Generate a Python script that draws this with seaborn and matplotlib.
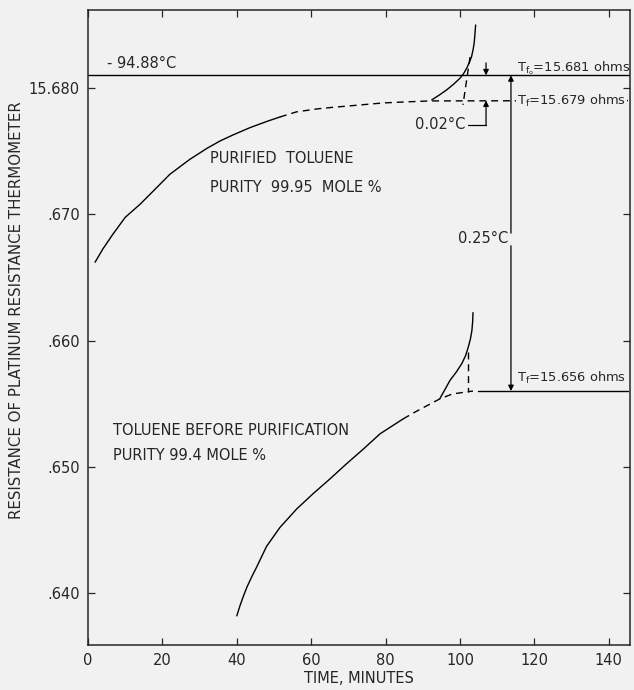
import numpy as np
import pandas as pd
import matplotlib
matplotlib.use("Agg")
import matplotlib.pyplot as plt
import seaborn as sns

# Curvas (tempo em minutos, resistencia em ohms)
pur_t = [1.9, 4.0, 6.7, 10.0, 14.0, 17.5, 22.0, 27.4, 32.0, 35.5, 39.0, 43.5, 48.1, 51.6]
pur_r = [15.6662, 15.66725, 15.66842, 15.66975, 15.67079, 15.67182, 15.67316, 15.67435,
         15.67522, 15.6758, 15.67628, 15.67685, 15.67735, 15.6777]

pur_dash_t = [51.6, 56.0, 61.6, 66.0, 70.4, 75.0, 79.3, 86.0, 91.9, 146.0]
pur_dash_r = [15.6777, 15.6781, 15.67834, 15.67847, 15.67858, 15.6787, 15.67881, 15.6789, 15.67897, 15.679]

pur_rise_t = [92.4, 94.5, 96.4, 98.3, 100.0, 101.0, 101.8, 102.5, 103.1, 103.5, 103.8, 104.0, 104.2]
pur_rise_r = [15.67905, 15.67945, 15.67984, 15.6803, 15.68077, 15.68115, 15.68156, 15.682,
              15.68247, 15.683, 15.68353, 15.6842, 15.68498]

pur_extra_t = [102.7, 100.8]
pur_extra_r = [15.68245, 15.67866]

raw_t = [40.0, 40.8, 41.7, 42.7, 44.0, 45.3, 48.0, 51.6, 56.1, 60.5, 65.0, 69.5, 74.0, 78.5, 84.7]
raw_r = [15.6382, 15.63895, 15.6397, 15.64046, 15.64128, 15.64204, 15.6437, 15.6452, 15.64666,
         15.64787, 15.64903, 15.65024, 15.6514, 15.65261, 15.65379]

raw_dash_t = [84.7, 88.0, 91.0, 94.6, 98.0, 101.8, 103.5]
raw_dash_r = [15.65379, 15.65435, 15.65482, 15.65538, 15.65577, 15.65593, 15.656]

raw_rise_t = [94.6, 96.0, 97.3, 99.0, 100.5, 101.5, 102.2, 102.8, 103.2, 103.4, 103.5]
raw_rise_r = [15.65541, 15.65614, 15.65684, 15.6575, 15.65818, 15.6588, 15.65945, 15.66012,
              15.66079, 15.6615, 15.66221]

raw_extra_t = [102.2, 102.2]
raw_extra_r = [15.65908, 15.6559]

tf0_line_t = [0, 146]
tf0_line_r = [15.681, 15.681]
tf_raw_t = [104.8, 145.2]
tf_raw_r = [15.656, 15.656]

x_ticks = [0, 20, 40, 60, 80, 100, 120, 140]
y_ticks = [15.640, 15.650, 15.660, 15.670, 15.680]
y_tick_labels = ['.640', '.650', '.660', '.670', '15.680']

bg = '#f1f1f1'
sns.set_style("ticks")
plt.rcParams['font.family'] = ['DejaVu Sans']
plt.rcParams['xtick.direction'] = 'in'
plt.rcParams['ytick.direction'] = 'in'

fig = plt.figure(figsize=(6.34, 6.90), dpi=100, facecolor=bg)
ax = fig.add_axes([88 / 634, 45 / 690, 542 / 634, 635 / 690], facecolor=bg)

dash = (0, (5, 3.5))
def curve(t, r, ls='-'):
    sns.lineplot(x=t, y=r, ax=ax, color='black', lw=1.0, sort=False,
                 estimator=None, linestyle=ls)

curve(pur_t, pur_r)
curve(pur_dash_t, pur_dash_r, dash)
curve(pur_rise_t, pur_rise_r)
curve(pur_extra_t, pur_extra_r, dash)
curve(raw_t, raw_r)
curve(raw_dash_t, raw_dash_r, dash)
curve(raw_rise_t, raw_rise_r)
curve(raw_extra_t, raw_extra_r, dash)
curve(tf0_line_t, tf0_line_r)
curve(tf_raw_t, tf_raw_r)

ax.set_xlim(0, 145.7)
ax.set_ylim(15.63589, 15.68617)
ax.set_xticks(x_ticks)
ax.set_yticks(y_ticks)
ax.set_yticklabels(y_tick_labels)
ax.tick_params(top=True, right=True, length=5, width=0.9, labelsize=10.5, pad=6)
for s in ax.spines.values():
    s.set_linewidth(1.1)
ax.set_xlabel('TIME, MINUTES', fontsize=10.5, labelpad=2)
ax.set_ylabel('RESISTANCE OF PLATINUM RESISTANCE THERMOMETER', fontsize=10.8)
ax.yaxis.set_label_coords(-0.118, 0.528)

fs = 10.5
fs_t = 9.4
ax.text(5.1, 15.6819, '- 94.88°C', fontsize=fs, va='center')
ax.text(115.3, 15.6816, r'T$_{\mathrm{f_o}}$=15.681 ohms', fontsize=fs_t, va='center')
ax.text(115.3, 15.6790, r'T$_{\mathrm{f}}$=15.679 ohms', fontsize=fs_t, va='center',
        bbox=dict(facecolor=bg, edgecolor='none', pad=0.5))
ax.text(115.3, 15.6570, r'T$_{\mathrm{f}}$=15.656 ohms', fontsize=fs_t, va='center')
ax.text(113.0, 15.6681, '0.25°C', fontsize=fs, va='center', ha='right')
ax.text(101.5, 15.67708, '0.02°C', fontsize=fs, va='center', ha='right')
ax.text(32.8, 15.67443, 'PURIFIED  TOLUENE', fontsize=fs, va='center')
ax.text(32.8, 15.67213, 'PURITY  99.95  MOLE %', fontsize=fs, va='center')
ax.text(6.7, 15.65285, 'TOLUENE BEFORE PURIFICATION', fontsize=fs, va='center')
ax.text(6.7, 15.65087, 'PURITY 99.4 MOLE %', fontsize=fs, va='center')

arrow = dict(arrowstyle='-|>', color='black', lw=0.9, mutation_scale=8, shrinkA=0, shrinkB=0)
ax.annotate('', xy=(113.7, 15.681), xytext=(113.7, 15.6685), arrowprops=arrow)
ax.annotate('', xy=(113.7, 15.656), xytext=(113.7, 15.6675), arrowprops=arrow)
ax.annotate('', xy=(107.0, 15.681), xytext=(107.0, 15.68198), arrowprops=arrow)
ax.annotate('', xy=(107.0, 15.679), xytext=(107.0, 15.67708), arrowprops=arrow)
ax.plot([102.2, 107.0], [15.67708, 15.67708], color='black', lw=0.9)

fig.savefig('out.png', dpi=100, facecolor=bg)
